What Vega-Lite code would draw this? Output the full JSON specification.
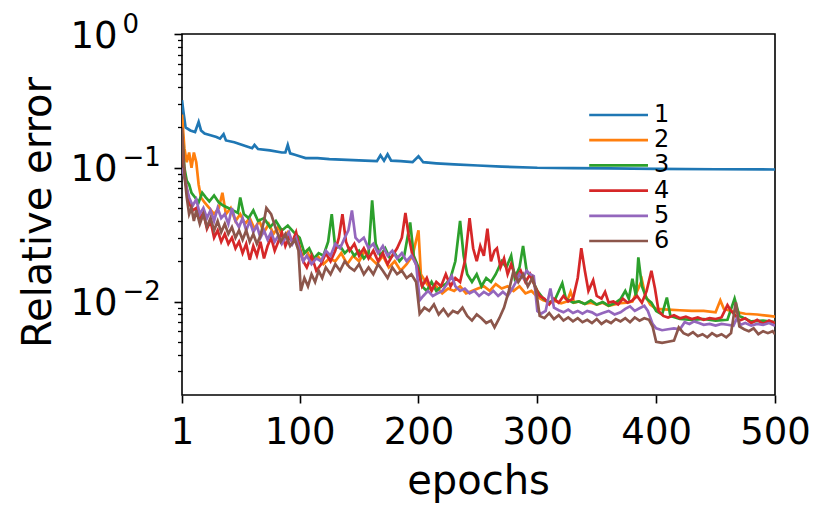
{
  "$schema": "https://vega.github.io/schema/vega-lite/v6.json",
  "autosize": "none",
  "width": 593,
  "height": 361,
  "padding": {"left": 182, "top": 34, "right": 57, "bottom": 126},
  "background": "white",
  "config": {
    "font": "DejaVu Sans",
    "view": {"stroke": "black", "strokeWidth": 1.6, "fill": "white"},
    "axis": {"grid": false, "domain": false, "tickColor": "black", "labelColor": "black", "titleColor": "black",
             "labelFont": "DejaVu Sans", "titleFont": "DejaVu Sans", "titleFontWeight": "normal",
             "labelFlush": false, "labelOverlap": false}
  },
  "data": {"values": [
    {"e":1,"s":"1","v":0.32},{"e":2,"s":"1","v":0.27},{"e":4,"s":"1","v":0.2},{"e":8,"s":"1","v":0.19},{"e":12,"s":"1","v":0.185},
    {"e":15,"s":"1","v":0.22},{"e":17,"s":"1","v":0.19},{"e":20,"s":"1","v":0.18},{"e":25,"s":"1","v":0.175},{"e":30,"s":"1","v":0.17},
    {"e":33,"s":"1","v":0.165},{"e":36,"s":"1","v":0.178},{"e":38,"s":"1","v":0.16},{"e":45,"s":"1","v":0.155},{"e":50,"s":"1","v":0.15},
    {"e":55,"s":"1","v":0.145},{"e":60,"s":"1","v":0.14},{"e":62,"s":"1","v":0.148},{"e":65,"s":"1","v":0.138},{"e":75,"s":"1","v":0.135},
    {"e":85,"s":"1","v":0.13},{"e":88,"s":"1","v":0.13},{"e":90,"s":"1","v":0.148},{"e":92,"s":"1","v":0.128},{"e":96,"s":"1","v":0.125},
    {"e":100,"s":"1","v":0.122},{"e":105,"s":"1","v":0.118},{"e":115,"s":"1","v":0.118},{"e":125,"s":"1","v":0.116},{"e":135,"s":"1","v":0.115},
    {"e":145,"s":"1","v":0.114},{"e":155,"s":"1","v":0.113},{"e":165,"s":"1","v":0.112},{"e":168,"s":"1","v":0.124},{"e":171,"s":"1","v":0.113},
    {"e":174,"s":"1","v":0.126},{"e":177,"s":"1","v":0.113},{"e":185,"s":"1","v":0.112},{"e":195,"s":"1","v":0.11},{"e":200,"s":"1","v":0.122},
    {"e":204,"s":"1","v":0.11},{"e":215,"s":"1","v":0.108},{"e":230,"s":"1","v":0.106},{"e":250,"s":"1","v":0.104},{"e":270,"s":"1","v":0.102},
    {"e":300,"s":"1","v":0.1},{"e":330,"s":"1","v":0.0995},{"e":360,"s":"1","v":0.099},{"e":400,"s":"1","v":0.098},{"e":450,"s":"1","v":0.0975},
    {"e":500,"s":"1","v":0.097},

    {"e":1,"s":"2","v":0.25},{"e":3,"s":"2","v":0.14},{"e":5,"s":"2","v":0.11},{"e":7,"s":"2","v":0.13},{"e":9,"s":"2","v":0.1},
    {"e":11,"s":"2","v":0.13},{"e":13,"s":"2","v":0.11},{"e":15,"s":"2","v":0.075},{"e":17,"s":"2","v":0.06},{"e":20,"s":"2","v":0.055},
    {"e":24,"s":"2","v":0.05},{"e":28,"s":"2","v":0.045},{"e":32,"s":"2","v":0.05},{"e":35,"s":"2","v":0.065},{"e":38,"s":"2","v":0.045},
    {"e":42,"s":"2","v":0.05},{"e":46,"s":"2","v":0.04},{"e":50,"s":"2","v":0.045},{"e":54,"s":"2","v":0.038},{"e":58,"s":"2","v":0.042},
    {"e":62,"s":"2","v":0.035},{"e":66,"s":"2","v":0.04},{"e":70,"s":"2","v":0.033},{"e":74,"s":"2","v":0.038},{"e":78,"s":"2","v":0.032},
    {"e":82,"s":"2","v":0.036},{"e":86,"s":"2","v":0.03},{"e":90,"s":"2","v":0.033},{"e":94,"s":"2","v":0.028},{"e":98,"s":"2","v":0.03},
    {"e":102,"s":"2","v":0.022},{"e":106,"s":"2","v":0.024},{"e":110,"s":"2","v":0.02},{"e":115,"s":"2","v":0.022},{"e":120,"s":"2","v":0.019},
    {"e":125,"s":"2","v":0.021},{"e":130,"s":"2","v":0.02},{"e":135,"s":"2","v":0.023},{"e":140,"s":"2","v":0.019},{"e":145,"s":"2","v":0.022},
    {"e":150,"s":"2","v":0.02},{"e":155,"s":"2","v":0.024},{"e":160,"s":"2","v":0.021},{"e":165,"s":"2","v":0.019},{"e":170,"s":"2","v":0.022},
    {"e":175,"s":"2","v":0.018},{"e":180,"s":"2","v":0.02},{"e":185,"s":"2","v":0.017},{"e":190,"s":"2","v":0.019},{"e":195,"s":"2","v":0.022},
    {"e":200,"s":"2","v":0.034},{"e":202,"s":"2","v":0.016},{"e":206,"s":"2","v":0.014},{"e":210,"s":"2","v":0.0125},{"e":215,"s":"2","v":0.013},
    {"e":220,"s":"2","v":0.0115},{"e":225,"s":"2","v":0.0125},{"e":230,"s":"2","v":0.012},{"e":235,"s":"2","v":0.013},{"e":240,"s":"2","v":0.0115},
    {"e":245,"s":"2","v":0.012},{"e":250,"s":"2","v":0.0125},{"e":255,"s":"2","v":0.013},{"e":260,"s":"2","v":0.012},{"e":265,"s":"2","v":0.0135},
    {"e":270,"s":"2","v":0.0125},{"e":275,"s":"2","v":0.013},{"e":280,"s":"2","v":0.012},{"e":285,"s":"2","v":0.013},{"e":290,"s":"2","v":0.0115},
    {"e":295,"s":"2","v":0.012},{"e":300,"s":"2","v":0.0108},{"e":305,"s":"2","v":0.0102},{"e":310,"s":"2","v":0.0099},{"e":315,"s":"2","v":0.0101},
    {"e":320,"s":"2","v":0.0097},{"e":325,"s":"2","v":0.01},{"e":328,"s":"2","v":0.0118},{"e":331,"s":"2","v":0.0098},{"e":335,"s":"2","v":0.01},
    {"e":340,"s":"2","v":0.0096},{"e":345,"s":"2","v":0.0098},{"e":350,"s":"2","v":0.0095},{"e":355,"s":"2","v":0.0098},{"e":360,"s":"2","v":0.0093},
    {"e":365,"s":"2","v":0.0095},{"e":370,"s":"2","v":0.0097},{"e":375,"s":"2","v":0.0098},{"e":380,"s":"2","v":0.01},{"e":385,"s":"2","v":0.0125},
    {"e":388,"s":"2","v":0.0145},{"e":391,"s":"2","v":0.011},{"e":395,"s":"2","v":0.0095},{"e":400,"s":"2","v":0.0088},{"e":410,"s":"2","v":0.0087},
    {"e":420,"s":"2","v":0.0086},{"e":430,"s":"2","v":0.0085},{"e":440,"s":"2","v":0.0085},{"e":450,"s":"2","v":0.0083},{"e":454,"s":"2","v":0.0102},
    {"e":457,"s":"2","v":0.0088},{"e":465,"s":"2","v":0.0084},{"e":475,"s":"2","v":0.0081},{"e":485,"s":"2","v":0.008},{"e":495,"s":"2","v":0.0078},
    {"e":500,"s":"2","v":0.0077},

    {"e":1,"s":"3","v":0.18},{"e":3,"s":"3","v":0.1},{"e":5,"s":"3","v":0.08},{"e":7,"s":"3","v":0.075},{"e":9,"s":"3","v":0.065},
    {"e":12,"s":"3","v":0.06},{"e":15,"s":"3","v":0.055},{"e":18,"s":"3","v":0.065},{"e":21,"s":"3","v":0.06},{"e":24,"s":"3","v":0.056},
    {"e":28,"s":"3","v":0.062},{"e":32,"s":"3","v":0.055},{"e":36,"s":"3","v":0.052},{"e":40,"s":"3","v":0.05},{"e":44,"s":"3","v":0.048},
    {"e":48,"s":"3","v":0.046},{"e":50,"s":"3","v":0.06},{"e":53,"s":"3","v":0.045},{"e":57,"s":"3","v":0.042},{"e":61,"s":"3","v":0.048},
    {"e":65,"s":"3","v":0.04},{"e":70,"s":"3","v":0.042},{"e":75,"s":"3","v":0.036},{"e":80,"s":"3","v":0.04},{"e":85,"s":"3","v":0.034},
    {"e":90,"s":"3","v":0.037},{"e":95,"s":"3","v":0.033},{"e":100,"s":"3","v":0.03},{"e":104,"s":"3","v":0.023},{"e":108,"s":"3","v":0.025},
    {"e":112,"s":"3","v":0.021},{"e":116,"s":"3","v":0.023},{"e":120,"s":"3","v":0.022},{"e":124,"s":"3","v":0.028},{"e":127,"s":"3","v":0.045},
    {"e":130,"s":"3","v":0.025},{"e":134,"s":"3","v":0.026},{"e":138,"s":"3","v":0.023},{"e":142,"s":"3","v":0.025},{"e":146,"s":"3","v":0.022},
    {"e":150,"s":"3","v":0.024},{"e":154,"s":"3","v":0.021},{"e":158,"s":"3","v":0.023},{"e":161,"s":"3","v":0.057},{"e":164,"s":"3","v":0.027},
    {"e":168,"s":"3","v":0.022},{"e":172,"s":"3","v":0.025},{"e":176,"s":"3","v":0.021},{"e":180,"s":"3","v":0.023},{"e":184,"s":"3","v":0.02},
    {"e":188,"s":"3","v":0.022},{"e":193,"s":"3","v":0.039},{"e":196,"s":"3","v":0.022},{"e":200,"s":"3","v":0.018},{"e":203,"s":"3","v":0.013},
    {"e":207,"s":"3","v":0.012},{"e":211,"s":"3","v":0.014},{"e":215,"s":"3","v":0.012},{"e":219,"s":"3","v":0.013},{"e":223,"s":"3","v":0.0135},
    {"e":227,"s":"3","v":0.015},{"e":231,"s":"3","v":0.02},{"e":235,"s":"3","v":0.04},{"e":238,"s":"3","v":0.022},{"e":241,"s":"3","v":0.016},
    {"e":245,"s":"3","v":0.014},{"e":249,"s":"3","v":0.016},{"e":253,"s":"3","v":0.013},{"e":257,"s":"3","v":0.015},{"e":261,"s":"3","v":0.014},
    {"e":265,"s":"3","v":0.016},{"e":270,"s":"3","v":0.02},{"e":274,"s":"3","v":0.018},{"e":278,"s":"3","v":0.022},{"e":281,"s":"3","v":0.015},
    {"e":285,"s":"3","v":0.018},{"e":288,"s":"3","v":0.026},{"e":291,"s":"3","v":0.017},{"e":295,"s":"3","v":0.015},{"e":300,"s":"3","v":0.012},
    {"e":305,"s":"3","v":0.0105},{"e":310,"s":"3","v":0.0098},{"e":315,"s":"3","v":0.0104},{"e":321,"s":"3","v":0.0137},{"e":324,"s":"3","v":0.0105},
    {"e":330,"s":"3","v":0.0098},{"e":335,"s":"3","v":0.01},{"e":340,"s":"3","v":0.0096},{"e":345,"s":"3","v":0.0102},{"e":350,"s":"3","v":0.0095},
    {"e":355,"s":"3","v":0.0099},{"e":360,"s":"3","v":0.0093},{"e":365,"s":"3","v":0.0097},{"e":370,"s":"3","v":0.0104},{"e":374,"s":"3","v":0.012},
    {"e":377,"s":"3","v":0.0105},{"e":380,"s":"3","v":0.0148},{"e":383,"s":"3","v":0.011},{"e":385,"s":"3","v":0.0214},{"e":388,"s":"3","v":0.013},
    {"e":392,"s":"3","v":0.0105},{"e":396,"s":"3","v":0.0098},{"e":400,"s":"3","v":0.0085},{"e":405,"s":"3","v":0.008},{"e":409,"s":"3","v":0.0107},
    {"e":412,"s":"3","v":0.0078},{"e":420,"s":"3","v":0.0074},{"e":430,"s":"3","v":0.0073},{"e":440,"s":"3","v":0.0074},{"e":450,"s":"3","v":0.0072},
    {"e":460,"s":"3","v":0.0073},{"e":466,"s":"3","v":0.0105},{"e":470,"s":"3","v":0.0078},{"e":480,"s":"3","v":0.0071},{"e":490,"s":"3","v":0.0072},
    {"e":500,"s":"3","v":0.007},

    {"e":1,"s":"4","v":0.17},{"e":3,"s":"4","v":0.09},{"e":5,"s":"4","v":0.07},{"e":7,"s":"4","v":0.055},{"e":10,"s":"4","v":0.048},
    {"e":13,"s":"4","v":0.05},{"e":16,"s":"4","v":0.042},{"e":19,"s":"4","v":0.046},{"e":22,"s":"4","v":0.035},{"e":25,"s":"4","v":0.04},
    {"e":28,"s":"4","v":0.03},{"e":31,"s":"4","v":0.034},{"e":34,"s":"4","v":0.028},{"e":37,"s":"4","v":0.032},{"e":40,"s":"4","v":0.027},
    {"e":43,"s":"4","v":0.03},{"e":46,"s":"4","v":0.025},{"e":49,"s":"4","v":0.028},{"e":52,"s":"4","v":0.023},{"e":55,"s":"4","v":0.027},
    {"e":58,"s":"4","v":0.0205},{"e":61,"s":"4","v":0.026},{"e":64,"s":"4","v":0.022},{"e":67,"s":"4","v":0.028},{"e":70,"s":"4","v":0.021},
    {"e":73,"s":"4","v":0.026},{"e":76,"s":"4","v":0.03},{"e":79,"s":"4","v":0.024},{"e":82,"s":"4","v":0.028},{"e":85,"s":"4","v":0.033},
    {"e":88,"s":"4","v":0.026},{"e":91,"s":"4","v":0.03},{"e":94,"s":"4","v":0.028},{"e":97,"s":"4","v":0.033},{"e":100,"s":"4","v":0.025},
    {"e":103,"s":"4","v":0.02},{"e":106,"s":"4","v":0.018},{"e":110,"s":"4","v":0.022},{"e":114,"s":"4","v":0.017},{"e":118,"s":"4","v":0.019},
    {"e":122,"s":"4","v":0.023},{"e":126,"s":"4","v":0.02},{"e":130,"s":"4","v":0.024},{"e":133,"s":"4","v":0.03},{"e":136,"s":"4","v":0.045},
    {"e":139,"s":"4","v":0.028},{"e":142,"s":"4","v":0.024},{"e":146,"s":"4","v":0.027},{"e":150,"s":"4","v":0.022},{"e":154,"s":"4","v":0.025},
    {"e":158,"s":"4","v":0.021},{"e":162,"s":"4","v":0.024},{"e":166,"s":"4","v":0.02},{"e":170,"s":"4","v":0.023},{"e":174,"s":"4","v":0.019},
    {"e":178,"s":"4","v":0.022},{"e":182,"s":"4","v":0.025},{"e":186,"s":"4","v":0.03},{"e":189,"s":"4","v":0.046},{"e":192,"s":"4","v":0.03},
    {"e":195,"s":"4","v":0.022},{"e":199,"s":"4","v":0.018},{"e":203,"s":"4","v":0.013},{"e":207,"s":"4","v":0.015},{"e":211,"s":"4","v":0.012},
    {"e":215,"s":"4","v":0.014},{"e":219,"s":"4","v":0.013},{"e":223,"s":"4","v":0.016},{"e":227,"s":"4","v":0.013},{"e":231,"s":"4","v":0.015},
    {"e":235,"s":"4","v":0.014},{"e":239,"s":"4","v":0.02},{"e":243,"s":"4","v":0.042},{"e":246,"s":"4","v":0.025},{"e":249,"s":"4","v":0.02},
    {"e":252,"s":"4","v":0.026},{"e":255,"s":"4","v":0.022},{"e":258,"s":"4","v":0.035},{"e":261,"s":"4","v":0.02},{"e":264,"s":"4","v":0.024},
    {"e":266,"s":"4","v":0.025},{"e":269,"s":"4","v":0.018},{"e":272,"s":"4","v":0.021},{"e":275,"s":"4","v":0.016},{"e":278,"s":"4","v":0.019},
    {"e":282,"s":"4","v":0.015},{"e":286,"s":"4","v":0.017},{"e":290,"s":"4","v":0.014},{"e":294,"s":"4","v":0.016},{"e":298,"s":"4","v":0.013},
    {"e":302,"s":"4","v":0.011},{"e":306,"s":"4","v":0.0105},{"e":310,"s":"4","v":0.0095},{"e":314,"s":"4","v":0.0105},{"e":318,"s":"4","v":0.0098},
    {"e":322,"s":"4","v":0.011},{"e":326,"s":"4","v":0.01},{"e":330,"s":"4","v":0.0105},{"e":334,"s":"4","v":0.015},{"e":337,"s":"4","v":0.025},
    {"e":340,"s":"4","v":0.017},{"e":343,"s":"4","v":0.012},{"e":347,"s":"4","v":0.0144},{"e":350,"s":"4","v":0.011},{"e":354,"s":"4","v":0.0105},
    {"e":357,"s":"4","v":0.0118},{"e":360,"s":"4","v":0.0098},{"e":364,"s":"4","v":0.01},{"e":368,"s":"4","v":0.0095},{"e":372,"s":"4","v":0.0105},
    {"e":376,"s":"4","v":0.0098},{"e":380,"s":"4","v":0.0102},{"e":384,"s":"4","v":0.011},{"e":388,"s":"4","v":0.0098},{"e":392,"s":"4","v":0.012},
    {"e":396,"s":"4","v":0.017},{"e":399,"s":"4","v":0.0125},{"e":402,"s":"4","v":0.0085},{"e":406,"s":"4","v":0.0078},{"e":410,"s":"4","v":0.0076},
    {"e":415,"s":"4","v":0.0079},{"e":420,"s":"4","v":0.0075},{"e":425,"s":"4","v":0.0077},{"e":430,"s":"4","v":0.0074},{"e":435,"s":"4","v":0.0076},
    {"e":440,"s":"4","v":0.0073},{"e":445,"s":"4","v":0.0075},{"e":450,"s":"4","v":0.0074},{"e":455,"s":"4","v":0.0076},{"e":460,"s":"4","v":0.0094},
    {"e":463,"s":"4","v":0.0085},{"e":467,"s":"4","v":0.0078},{"e":470,"s":"4","v":0.0072},{"e":475,"s":"4","v":0.0075},{"e":480,"s":"4","v":0.0069},
    {"e":485,"s":"4","v":0.0073},{"e":490,"s":"4","v":0.0068},{"e":495,"s":"4","v":0.0072},{"e":500,"s":"4","v":0.0069},

    {"e":1,"s":"5","v":0.1},{"e":3,"s":"5","v":0.085},{"e":5,"s":"5","v":0.07},{"e":7,"s":"5","v":0.06},{"e":10,"s":"5","v":0.052},
    {"e":13,"s":"5","v":0.058},{"e":16,"s":"5","v":0.045},{"e":19,"s":"5","v":0.05},{"e":22,"s":"5","v":0.042},{"e":25,"s":"5","v":0.048},
    {"e":28,"s":"5","v":0.04},{"e":31,"s":"5","v":0.05},{"e":34,"s":"5","v":0.042},{"e":37,"s":"5","v":0.045},{"e":40,"s":"5","v":0.038},
    {"e":43,"s":"5","v":0.05},{"e":46,"s":"5","v":0.04},{"e":49,"s":"5","v":0.036},{"e":52,"s":"5","v":0.042},{"e":55,"s":"5","v":0.034},
    {"e":58,"s":"5","v":0.04},{"e":61,"s":"5","v":0.033},{"e":64,"s":"5","v":0.037},{"e":67,"s":"5","v":0.03},{"e":70,"s":"5","v":0.034},
    {"e":73,"s":"5","v":0.029},{"e":76,"s":"5","v":0.033},{"e":79,"s":"5","v":0.028},{"e":82,"s":"5","v":0.031},{"e":85,"s":"5","v":0.027},
    {"e":88,"s":"5","v":0.03},{"e":91,"s":"5","v":0.033},{"e":94,"s":"5","v":0.027},{"e":97,"s":"5","v":0.03},{"e":100,"s":"5","v":0.024},
    {"e":103,"s":"5","v":0.02},{"e":106,"s":"5","v":0.022},{"e":110,"s":"5","v":0.019},{"e":114,"s":"5","v":0.021},{"e":118,"s":"5","v":0.02},
    {"e":122,"s":"5","v":0.024},{"e":126,"s":"5","v":0.022},{"e":130,"s":"5","v":0.027},{"e":134,"s":"5","v":0.025},{"e":138,"s":"5","v":0.03},
    {"e":141,"s":"5","v":0.034},{"e":144,"s":"5","v":0.048},{"e":147,"s":"5","v":0.03},{"e":150,"s":"5","v":0.028},{"e":154,"s":"5","v":0.03},
    {"e":158,"s":"5","v":0.025},{"e":162,"s":"5","v":0.027},{"e":166,"s":"5","v":0.023},{"e":170,"s":"5","v":0.026},{"e":174,"s":"5","v":0.022},
    {"e":178,"s":"5","v":0.024},{"e":182,"s":"5","v":0.021},{"e":186,"s":"5","v":0.023},{"e":190,"s":"5","v":0.02},{"e":194,"s":"5","v":0.022},
    {"e":198,"s":"5","v":0.019},{"e":201,"s":"5","v":0.0102},{"e":204,"s":"5","v":0.011},{"e":208,"s":"5","v":0.012},{"e":212,"s":"5","v":0.011},
    {"e":216,"s":"5","v":0.0115},{"e":220,"s":"5","v":0.012},{"e":224,"s":"5","v":0.0135},{"e":228,"s":"5","v":0.0155},{"e":231,"s":"5","v":0.013},
    {"e":235,"s":"5","v":0.012},{"e":239,"s":"5","v":0.0125},{"e":243,"s":"5","v":0.0115},{"e":247,"s":"5","v":0.012},{"e":251,"s":"5","v":0.011},
    {"e":255,"s":"5","v":0.0118},{"e":259,"s":"5","v":0.0112},{"e":263,"s":"5","v":0.012},{"e":267,"s":"5","v":0.011},{"e":271,"s":"5","v":0.0118},
    {"e":275,"s":"5","v":0.011},{"e":279,"s":"5","v":0.0125},{"e":282,"s":"5","v":0.014},{"e":285,"s":"5","v":0.016},{"e":288,"s":"5","v":0.015},
    {"e":291,"s":"5","v":0.017},{"e":294,"s":"5","v":0.016},{"e":297,"s":"5","v":0.0155},{"e":300,"s":"5","v":0.0085},{"e":303,"s":"5","v":0.0081},
    {"e":307,"s":"5","v":0.0085},{"e":311,"s":"5","v":0.0125},{"e":314,"s":"5","v":0.009},{"e":318,"s":"5","v":0.0086},{"e":322,"s":"5","v":0.0083},
    {"e":326,"s":"5","v":0.0087},{"e":330,"s":"5","v":0.0082},{"e":334,"s":"5","v":0.0085},{"e":338,"s":"5","v":0.0081},{"e":342,"s":"5","v":0.0085},
    {"e":346,"s":"5","v":0.0083},{"e":350,"s":"5","v":0.0079},{"e":355,"s":"5","v":0.0082},{"e":360,"s":"5","v":0.0085},{"e":365,"s":"5","v":0.008},
    {"e":370,"s":"5","v":0.0083},{"e":374,"s":"5","v":0.0088},{"e":378,"s":"5","v":0.0092},{"e":382,"s":"5","v":0.0085},{"e":386,"s":"5","v":0.0089},
    {"e":390,"s":"5","v":0.0093},{"e":393,"s":"5","v":0.0085},{"e":397,"s":"5","v":0.0068},{"e":400,"s":"5","v":0.0063},{"e":405,"s":"5","v":0.0061},
    {"e":410,"s":"5","v":0.0062},{"e":415,"s":"5","v":0.0063},{"e":420,"s":"5","v":0.0062},{"e":424,"s":"5","v":0.007},{"e":428,"s":"5","v":0.0068},
    {"e":432,"s":"5","v":0.0071},{"e":436,"s":"5","v":0.0069},{"e":440,"s":"5","v":0.0067},{"e":445,"s":"5","v":0.0068},{"e":450,"s":"5","v":0.0066},
    {"e":455,"s":"5","v":0.0068},{"e":460,"s":"5","v":0.0067},{"e":465,"s":"5","v":0.0066},{"e":468,"s":"5","v":0.0075},{"e":471,"s":"5","v":0.0067},
    {"e":475,"s":"5","v":0.0069},{"e":480,"s":"5","v":0.0066},{"e":485,"s":"5","v":0.0068},{"e":490,"s":"5","v":0.0067},{"e":495,"s":"5","v":0.0069},
    {"e":500,"s":"5","v":0.0066},

    {"e":1,"s":"6","v":0.2},{"e":3,"s":"6","v":0.09},{"e":5,"s":"6","v":0.06},{"e":7,"s":"6","v":0.045},{"e":9,"s":"6","v":0.05},
    {"e":11,"s":"6","v":0.04},{"e":13,"s":"6","v":0.048},{"e":16,"s":"6","v":0.038},{"e":19,"s":"6","v":0.045},{"e":22,"s":"6","v":0.036},
    {"e":25,"s":"6","v":0.042},{"e":28,"s":"6","v":0.034},{"e":31,"s":"6","v":0.04},{"e":34,"s":"6","v":0.033},{"e":37,"s":"6","v":0.038},
    {"e":40,"s":"6","v":0.032},{"e":43,"s":"6","v":0.036},{"e":46,"s":"6","v":0.03},{"e":49,"s":"6","v":0.034},{"e":52,"s":"6","v":0.029},
    {"e":55,"s":"6","v":0.034},{"e":58,"s":"6","v":0.028},{"e":61,"s":"6","v":0.032},{"e":64,"s":"6","v":0.027},{"e":67,"s":"6","v":0.031},
    {"e":70,"s":"6","v":0.04},{"e":72,"s":"6","v":0.05},{"e":76,"s":"6","v":0.045},{"e":80,"s":"6","v":0.035},{"e":84,"s":"6","v":0.028},
    {"e":88,"s":"6","v":0.032},{"e":92,"s":"6","v":0.026},{"e":96,"s":"6","v":0.029},{"e":99,"s":"6","v":0.024},{"e":101,"s":"6","v":0.012},
    {"e":104,"s":"6","v":0.015},{"e":107,"s":"6","v":0.013},{"e":110,"s":"6","v":0.016},{"e":113,"s":"6","v":0.014},{"e":116,"s":"6","v":0.017},
    {"e":119,"s":"6","v":0.015},{"e":122,"s":"6","v":0.018},{"e":126,"s":"6","v":0.016},{"e":130,"s":"6","v":0.019},{"e":134,"s":"6","v":0.017},
    {"e":138,"s":"6","v":0.02},{"e":142,"s":"6","v":0.018},{"e":146,"s":"6","v":0.017},{"e":150,"s":"6","v":0.019},{"e":154,"s":"6","v":0.016},
    {"e":158,"s":"6","v":0.018},{"e":162,"s":"6","v":0.016},{"e":166,"s":"6","v":0.019},{"e":170,"s":"6","v":0.017},{"e":174,"s":"6","v":0.015},
    {"e":178,"s":"6","v":0.018},{"e":182,"s":"6","v":0.016},{"e":186,"s":"6","v":0.017},{"e":190,"s":"6","v":0.015},{"e":194,"s":"6","v":0.016},
    {"e":198,"s":"6","v":0.014},{"e":201,"s":"6","v":0.0081},{"e":205,"s":"6","v":0.009},{"e":209,"s":"6","v":0.0085},{"e":213,"s":"6","v":0.0095},
    {"e":217,"s":"6","v":0.008},{"e":221,"s":"6","v":0.0088},{"e":225,"s":"6","v":0.0078},{"e":229,"s":"6","v":0.0085},{"e":233,"s":"6","v":0.0082},
    {"e":237,"s":"6","v":0.009},{"e":241,"s":"6","v":0.0078},{"e":245,"s":"6","v":0.0072},{"e":249,"s":"6","v":0.008},{"e":253,"s":"6","v":0.0075},
    {"e":257,"s":"6","v":0.0069},{"e":261,"s":"6","v":0.0072},{"e":264,"s":"6","v":0.0064},{"e":268,"s":"6","v":0.0075},{"e":272,"s":"6","v":0.009},
    {"e":276,"s":"6","v":0.012},{"e":280,"s":"6","v":0.017},{"e":284,"s":"6","v":0.014},{"e":288,"s":"6","v":0.016},{"e":292,"s":"6","v":0.013},
    {"e":296,"s":"6","v":0.015},{"e":299,"s":"6","v":0.012},{"e":302,"s":"6","v":0.0078},{"e":306,"s":"6","v":0.0075},{"e":310,"s":"6","v":0.0082},
    {"e":314,"s":"6","v":0.0074},{"e":318,"s":"6","v":0.0079},{"e":322,"s":"6","v":0.0072},{"e":326,"s":"6","v":0.0076},{"e":330,"s":"6","v":0.0071},
    {"e":334,"s":"6","v":0.0075},{"e":338,"s":"6","v":0.007},{"e":342,"s":"6","v":0.0073},{"e":346,"s":"6","v":0.0069},{"e":350,"s":"6","v":0.0074},
    {"e":354,"s":"6","v":0.0068},{"e":358,"s":"6","v":0.0072},{"e":362,"s":"6","v":0.0069},{"e":366,"s":"6","v":0.0074},{"e":370,"s":"6","v":0.0071},
    {"e":374,"s":"6","v":0.0075},{"e":378,"s":"6","v":0.007},{"e":382,"s":"6","v":0.0076},{"e":386,"s":"6","v":0.0072},{"e":390,"s":"6","v":0.0075},
    {"e":394,"s":"6","v":0.0073},{"e":397,"s":"6","v":0.0065},{"e":400,"s":"6","v":0.005},{"e":405,"s":"6","v":0.0049},{"e":410,"s":"6","v":0.005},
    {"e":415,"s":"6","v":0.0051},{"e":419,"s":"6","v":0.0064},{"e":423,"s":"6","v":0.0058},{"e":427,"s":"6","v":0.0056},{"e":431,"s":"6","v":0.0059},
    {"e":435,"s":"6","v":0.0055},{"e":439,"s":"6","v":0.0057},{"e":443,"s":"6","v":0.0054},{"e":447,"s":"6","v":0.0058},{"e":451,"s":"6","v":0.0055},
    {"e":455,"s":"6","v":0.0057},{"e":459,"s":"6","v":0.0054},{"e":463,"s":"6","v":0.0058},{"e":467,"s":"6","v":0.0099},{"e":470,"s":"6","v":0.0065},
    {"e":474,"s":"6","v":0.0062},{"e":478,"s":"6","v":0.006},{"e":482,"s":"6","v":0.0063},{"e":486,"s":"6","v":0.0057},{"e":490,"s":"6","v":0.006},
    {"e":494,"s":"6","v":0.0058},{"e":498,"s":"6","v":0.006},{"e":500,"s":"6","v":0.0057}
  ]},
  "resolve": {"axis": {"y": "independent"}, "scale": {"y": "shared"}},
  "layer": [
    {
      "mark": {"type": "line", "strokeWidth": 2.7, "clip": true},
      "encoding": {
        "x": {"field": "e", "type": "quantitative",
              "scale": {"domain": [1, 500], "nice": false, "zero": false},
              "axis": {"title": "epochs", "values": [1, 100, 200, 300, 400, 500], "tickSize": 8, "tickWidth": 1.6,
                       "labelFontSize": 37, "labelPadding": 11, "labelBaseline": "top",
                       "titleFontSize": 40, "titleBaseline": "alphabetic", "titleY": 98, "titleX": 296, "titleAlign": "center"}},
        "y": {"field": "v", "type": "quantitative",
              "scale": {"type": "log", "domain": [0.002, 1], "nice": false},
              "axis": {"orient": "left", "title": "Relative error", "values": [1, 0.1, 0.01],
                       "labelExpr": "'10'", "tickSize": 8, "tickWidth": 1.6,
                       "labelFontSize": 37, "labelPadding": 57, "labelAlign": "right", "labelBaseline": "middle", "labelOffset": 2,
                       "titleFontSize": 40, "titleAngle": -90, "titleBaseline": "alphabetic", "titleAlign": "center",
                       "titleX": -132, "titleY": 178}},
        "color": {"field": "s", "type": "nominal",
                  "scale": {"domain": ["1", "2", "3", "4", "5", "6"],
                            "range": ["#1f77b4", "#ff7f0e", "#2ca02c", "#d62728", "#9467bd", "#8c564b"]},
                  "legend": {"orient": "none", "legendX": 426, "legendY": 69, "title": null, "padding": 0,
                             "symbolType": "M -4.4 0 L 4 0", "symbolSize": 196, "symbolStrokeWidth": 2.7,
                             "labelFontSize": 24, "labelFont": "DejaVu Sans", "labelColor": "black",
                             "labelOffset": 22, "rowPadding": 1.2}}
      }
    },
    {
      "mark": {"type": "rule", "opacity": 0},
      "encoding": {
        "y": {"field": "v", "type": "quantitative",
              "axis": {"orient": "left", "title": null, "values": [1, 0.1, 0.01],
                       "labelExpr": "datum.value >= 0.5 ? '0' : datum.value >= 0.05 ? '−1' : '−2'",
                       "ticks": false, "tickSize": 0, "labelFontSize": 26, "labelPadding": 60,
                       "labelAlign": "left", "labelBaseline": "middle", "labelOffset": -10}}
      }
    },
    {
      "mark": {"type": "rule", "opacity": 0},
      "encoding": {
        "y": {"field": "v", "type": "quantitative",
              "axis": {"orient": "left", "title": null, "labels": false, "tickSize": 4.5, "tickWidth": 1.3,
                       "values": [0.003, 0.004, 0.005, 0.006, 0.007, 0.008, 0.009,
                                  0.02, 0.03, 0.04, 0.05, 0.06, 0.07, 0.08, 0.09,
                                  0.2, 0.3, 0.4, 0.5, 0.6, 0.7, 0.8, 0.9]}}
      }
    }
  ]
}
